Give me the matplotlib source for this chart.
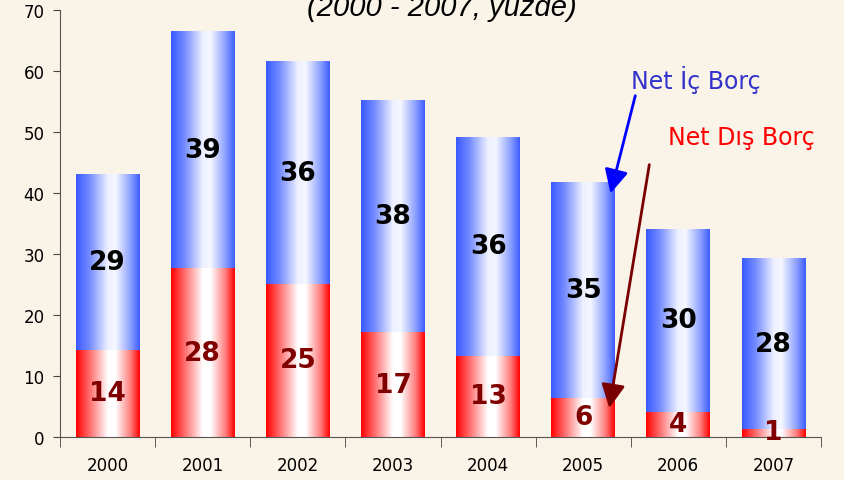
import matplotlib.pyplot as plt
import numpy as np
from matplotlib.colors import LinearSegmentedColormap

# data (percent)
years = ['2000', '2001', '2002', '2003', '2004', '2005', '2006', '2007']
dis_borc = [14.3, 27.7, 25.1, 17.2, 13.3, 6.4, 4.1, 1.3]
ic_borc = [28.7, 38.7, 36.4, 37.9, 35.9, 35.4, 30.0, 27.9]
dis_labels = ['14', '28', '25', '17', '13', '6', '4', '1']
ic_labels = ['29', '39', '36', '38', '36', '35', '30', '28']

bg = '#faf3e8'
blue_cm = LinearSegmentedColormap.from_list('b', [(0, '#3a5aff'), (0.2, '#7088ff'), (0.5, '#eef1ff'),
                                                   (0.62, '#f4f6ff'), (0.85, '#8ea2ff'), (1, '#3d5cff')])
red_cm = LinearSegmentedColormap.from_list('r', [(0, '#ff0000'), (0.2, '#ff6666'), (0.5, '#ffffff'),
                                                  (0.62, '#ffffff'), (0.85, '#ff8080'), (1, '#ff0000')])
grad = np.linspace(0, 1, 256).reshape(1, -1)

fig = plt.figure(figsize=(8.44, 4.81), dpi=100, facecolor=bg)
ax = fig.add_axes([60 / 844, 43 / 481, 761 / 844, 427 / 481], facecolor=bg)

w = 0.67
x = np.arange(len(years))
for i in range(len(years)):
    x0, x1 = x[i] - w / 2, x[i] + w / 2
    ax.imshow(grad, extent=[x0, x1, 0, dis_borc[i]], cmap=red_cm, aspect='auto',
              interpolation='bilinear', zorder=2)
    ax.imshow(grad, extent=[x0, x1, dis_borc[i], dis_borc[i] + ic_borc[i]], cmap=blue_cm,
              aspect='auto', interpolation='bilinear', zorder=2)
    # tiny segment label sits a bit lower, as in the original
    ypos = dis_borc[i] / 2 if dis_borc[i] > 2 else 0.75
    ax.text(x[i], ypos, dis_labels[i], ha='center', va='center',
            fontsize=19, fontweight='bold', color='#800000', zorder=4)
    ax.text(x[i], dis_borc[i] + ic_borc[i] / 2, ic_labels[i], ha='center', va='center',
            fontsize=19, fontweight='bold', color='black', zorder=4)

ax.set_xlim(-0.5, len(years) - 0.5)
ax.set_ylim(0, 70)
ax.set_yticks(range(0, 71, 10))
ax.set_xticks(x)
ax.set_xticklabels(years)
ax.set_xticks(np.arange(-0.5, len(years), 1), minor=True)
ax.tick_params(axis='x', which='major', length=0, pad=14, labelsize=12)
ax.tick_params(axis='x', which='minor', length=7, color='#444444')
ax.tick_params(axis='y', length=5, color='#444444', labelsize=12, pad=6)
for s in ['top', 'right']:
    ax.spines[s].set_visible(False)
for s in ['left', 'bottom']:
    ax.spines[s].set_color('#555555')

# annotations
ax.text(6.18, 58.7, 'Net İç Borç', color='#3333cc', fontsize=17, ha='center', va='center')
ax.text(6.66, 49.2, 'Net Dış Borç', color='#ff0000', fontsize=17, ha='center', va='center')
ax.annotate('', xy=(5.28, 39.5), xytext=(5.555, 56.4),
            arrowprops=dict(arrowstyle='-|>', color='#0000ff', lw=2, mutation_scale=36), zorder=5)
ax.annotate('', xy=(5.27, 4.3), xytext=(5.70, 45.1),
            arrowprops=dict(arrowstyle='-|>', color='#7a0000', lw=2, mutation_scale=36), zorder=5)

fig.text(442 / 844, (481 - 16) / 481, '(2000 - 2007, yüzde)', ha='center', va='baseline',
         fontsize=21, style='italic', family='Liberation Sans')

fig.savefig('out.png', dpi=100, facecolor=bg)
